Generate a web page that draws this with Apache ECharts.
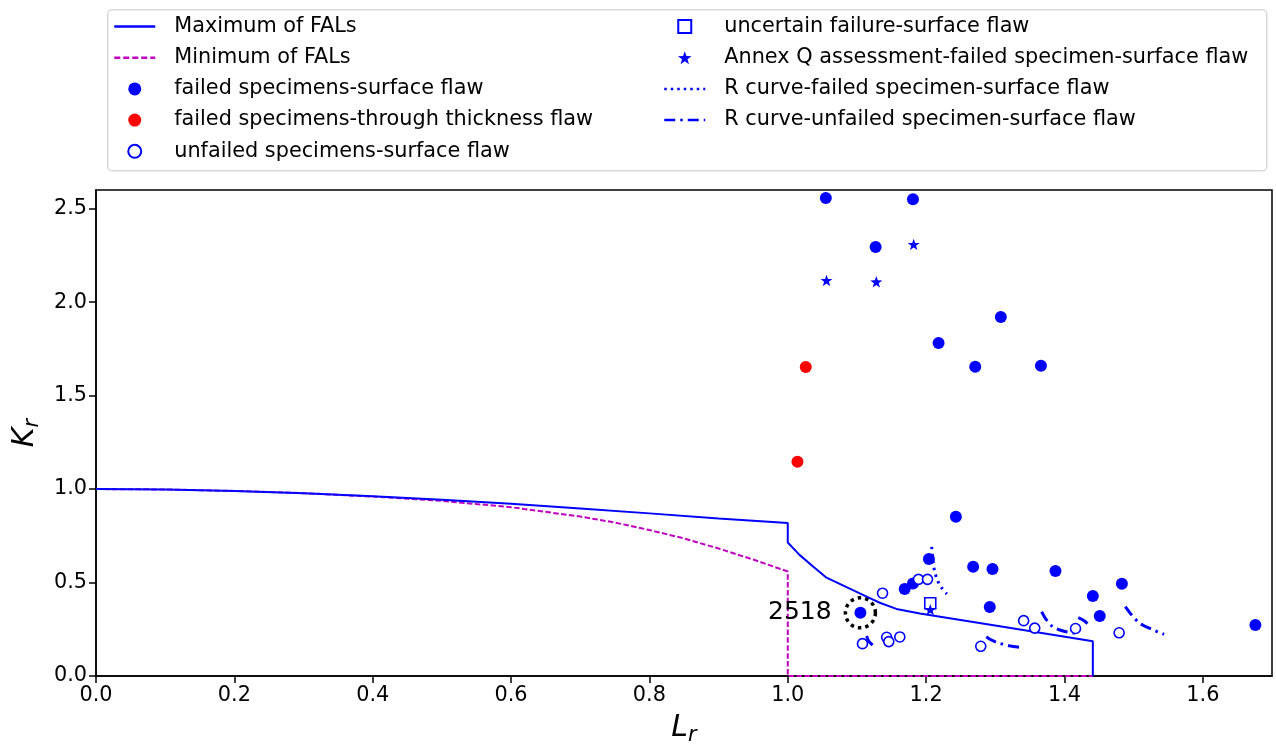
<!DOCTYPE html>
<html>
<head>
<meta charset="utf-8">
<script src="https://cdn.jsdelivr.net/npm/echarts@6/dist/echarts.min.js"></script>
<style>
  html, body { margin: 0; padding: 0; background: #fff; }
  #chart { width: 1276px; height: 747px; }
</style>
</head>
<body>
<div id="chart"></div>
<script>
// axis ticks
var xTicks = [0, 0.2, 0.4, 0.6, 0.8, 1.0, 1.2, 1.4, 1.6];
var yTicks = [0, 0.5, 1.0, 1.5, 2.0, 2.5];

// failure assessment lines [Lr, Kr]
var maxFal = [[0, 1.0], [0.1, 0.998], [0.2, 0.990], [0.3, 0.978], [0.4, 0.962], [0.5, 0.943],
  [0.6, 0.921], [0.7, 0.896], [0.8, 0.870], [0.9, 0.843], [1.0, 0.818], [1.0, 0.714],
  [1.017, 0.648], [1.037, 0.585], [1.056, 0.526], [1.085, 0.475], [1.114, 0.425],
  [1.133, 0.392], [1.157, 0.359], [1.191, 0.334], [1.311, 0.264], [1.441, 0.186], [1.441, 0]];
var minFal = [[0, 1.0], [0.1, 0.998], [0.2, 0.990], [0.3, 0.978], [0.4, 0.960], [0.5, 0.937],
  [0.6, 0.903], [0.7, 0.853], [0.75, 0.821], [0.8, 0.781], [0.85, 0.736], [0.9, 0.682],
  [0.95, 0.623], [1.0, 0.559], [1.0, 0], [1.441, 0]];

// specimens
var failedSurface = [[1.055, 2.557], [1.181, 2.551], [1.127, 2.295], [1.308, 1.920], [1.218, 1.782],
  [1.271, 1.654], [1.366, 1.660], [1.243, 0.852], [1.204, 0.626], [1.268, 0.584], [1.296, 0.573],
  [1.387, 0.562], [1.441, 0.428], [1.483, 0.493], [1.292, 0.369], [1.451, 0.321], [1.676, 0.273],
  [1.169, 0.466], [1.181, 0.495], [1.105, 0.338]];
var failedThrough = [[1.026, 1.653], [1.014, 1.146]];
var unfailedSurface = [[1.137, 0.443], [1.189, 0.517], [1.202, 0.517], [1.108, 0.173], [1.143, 0.207],
  [1.146, 0.184], [1.162, 0.209], [1.279, 0.159], [1.341, 0.296], [1.357, 0.256], [1.416, 0.254],
  [1.479, 0.231]];
var uncertain = [[1.206, 0.389]];
var annexQ = [[1.056, 2.116], [1.128, 2.109], [1.182, 2.309], [1.206, 0.355]];
var marked = [[1.105, 0.338]];
var markedName = '2518';

// R curves
var rCurveFailed = [[1.208, 0.691], [1.210, 0.620], [1.212, 0.565], [1.216, 0.515], [1.222, 0.474], [1.230, 0.439]];
var rCurveUnfailed = [
  [[1.114, 0.214], [1.117, 0.187], [1.124, 0.161]],
  [[1.287, 0.210], [1.294, 0.193], [1.306, 0.175], [1.320, 0.162], [1.335, 0.154]],
  [[1.367, 0.344], [1.374, 0.300], [1.383, 0.264], [1.398, 0.241], [1.415, 0.229]],
  [[1.420, 0.312], [1.429, 0.294], [1.436, 0.269]],
  [[1.488, 0.371], [1.497, 0.327], [1.509, 0.282], [1.526, 0.250], [1.544, 0.223]]
];

var BLUE = '#0000ff', RED = '#ff0000', MAG = '#bf00bf';
var FONT = 'DejaVu Sans';
var STAR = 'path://M0,-10 L2.35,-3.24 L9.51,-3.09 L3.8,1.24 L5.88,8.09 L0,4 L-5.88,8.09 L-3.8,1.24 L-9.51,-3.09 L-2.35,-3.24 Z';
var SQUARE = 'path://M0,0 L10,0 L10,10 L0,10 Z';

var names = {
  max: 'Maximum of FALs',
  min: 'Minimum of FALs',
  fs: 'failed specimens-surface flaw',
  ft: 'failed specimens-through thickness flaw',
  us: 'unfailed specimens-surface flaw',
  un: 'uncertain failure-surface flaw',
  aq: 'Annex Q assessment-failed specimen-surface flaw',
  rf: 'R curve-failed specimen-surface flaw',
  ru: 'R curve-unfailed specimen-surface flaw'
};

var chart = echarts.init(document.getElementById('chart'));

var legendBase = {
  orient: 'vertical',
  top: 11,
  itemWidth: 41,
  itemHeight: 13,
  itemGap: 10.2,
  textStyle: { fontFamily: FONT, fontSize: 20.8, color: '#000', lineHeight: 21, padding: [0, 0, 0, 14] },
  selectedMode: false
};
var noSym = { opacity: 0 };

var series = [
  { name: names.max, type: 'line', data: maxFal, symbol: 'none', lineStyle: { color: BLUE, width: 2 }, itemStyle: { color: BLUE }, z: 3 },
  { name: names.min, type: 'line', data: minFal, symbol: 'none', lineStyle: { color: MAG, width: 2, type: [5.5, 2.4] }, itemStyle: { color: MAG }, z: 2 },
  { name: names.fs, type: 'scatter', data: failedSurface, symbol: 'circle', symbolSize: 12, itemStyle: { color: BLUE, opacity: 1 }, z: 4 },
  { name: names.ft, type: 'scatter', data: failedThrough, symbol: 'circle', symbolSize: 12, itemStyle: { color: RED, opacity: 1 }, z: 4 },
  { name: names.us, type: 'scatter', data: unfailedSurface, symbol: 'circle', symbolSize: 10, itemStyle: { color: '#fff', borderColor: BLUE, borderWidth: 1.6, opacity: 1 }, z: 4 },
  { name: names.un, type: 'scatter', data: uncertain, symbol: 'rect', symbolSize: 11, itemStyle: { color: 'rgba(255,255,255,0)', borderColor: BLUE, borderWidth: 1.6, opacity: 1 }, z: 4 },
  { name: names.aq, type: 'scatter', data: annexQ, symbol: STAR, symbolKeepAspect: true, symbolSize: 12, itemStyle: { color: BLUE, opacity: 1 }, z: 5 },
  { name: names.rf, type: 'line', data: rCurveFailed, symbol: 'none', smooth: 0.3, lineStyle: { color: BLUE, width: 3, type: [2.5, 4.5] }, itemStyle: { color: BLUE }, z: 3 }
];
rCurveUnfailed.forEach(function (arc) {
  series.push({ name: names.ru, type: 'line', data: arc, symbol: 'none', smooth: 0.3,
    lineStyle: { color: BLUE, width: 3, type: [11, 5, 2.5, 5] }, itemStyle: { color: BLUE }, z: 3 });
});
series.push({
  name: markedName, type: 'scatter', data: marked, symbol: 'circle', symbolSize: 30, silent: true,
  itemStyle: { color: 'rgba(0,0,0,0)', borderColor: '#000', borderWidth: 3.5, borderType: [3.5, 4], opacity: 1 },
  label: { show: true, position: 'left', distance: 12, formatter: markedName, fontFamily: FONT, fontSize: 25, color: '#000' },
  z: 6
});

var option = {
  backgroundColor: '#fff',
  animation: false,
  graphic: [{
    type: 'rect', left: 107, top: 9, z: -1,
    shape: { width: 1159, height: 161, r: 4 },
    style: { fill: '#fff', stroke: '#d9d9d9', lineWidth: 1.5 }
  }],
  legend: [
    Object.assign({}, legendBase, { left: 108, data: [
      { name: names.max, itemStyle: noSym, lineStyle: { width: 2.5 } },
      { name: names.min, itemStyle: noSym, lineStyle: { width: 2.5, type: [6, 3] } },
      names.fs, names.ft, names.us] }),
    Object.assign({}, legendBase, { left: 658, data: [
      { name: names.un, icon: SQUARE },
      names.aq,
      { name: names.rf, itemStyle: noSym, lineStyle: { width: 2.5, type: [2.5, 4] } },
      { name: names.ru, itemStyle: noSym, lineStyle: { width: 2.5, type: [11, 5, 2.5, 5] } }] })
  ],
  grid: { left: 96, right: 4, top: 190, bottom: 71, outerBoundsMode: 'none', containLabel: false,
    show: true, borderColor: '#000', borderWidth: 1.5, backgroundColor: 'rgba(0,0,0,0)' },
  xAxis: {
    type: 'value', min: 0, max: 1.7,
    name: '{i|L}{s|r}', nameLocation: 'middle', nameGap: 35,
    nameTextStyle: {
      rich: {
        i: { fontFamily: FONT, fontStyle: 'italic', fontSize: 30, color: '#000' },
        s: { fontFamily: FONT, fontStyle: 'italic', fontSize: 21, color: '#000', padding: [14, 0, 0, 0] }
      }
    },
    splitLine: { show: false },
    axisLine: { onZero: false, lineStyle: { color: '#000', width: 1.5 } },
    axisTick: { show: true, length: 7, inside: false, customValues: xTicks, lineStyle: { color: '#000', width: 1.5 } },
    axisLabel: { customValues: xTicks, margin: 9, fontFamily: FONT, fontSize: 20.8, color: '#000', formatter: function (v) { return v.toFixed(1); } }
  },
  yAxis: {
    type: 'value', min: 0, max: 2.6,
    name: '{i|K}{s|r}', nameLocation: 'middle', nameGap: 43, nameRotate: 90,
    nameTextStyle: {
      rich: {
        i: { fontFamily: FONT, fontStyle: 'italic', fontSize: 30, color: '#000' },
        s: { fontFamily: FONT, fontStyle: 'italic', fontSize: 21, color: '#000', padding: [14, 0, 0, 0] }
      }
    },
    splitLine: { show: false },
    axisLine: { onZero: false, lineStyle: { color: '#000', width: 1.5 } },
    axisTick: { show: true, length: 7, customValues: yTicks, lineStyle: { color: '#000', width: 1.5 } },
    axisLabel: { customValues: yTicks, margin: 9, fontFamily: FONT, fontSize: 20.8, color: '#000', formatter: function (v) { return v.toFixed(1); } }
  },
  series: series
};

chart.setOption(option);
</script>
</body>
</html>
